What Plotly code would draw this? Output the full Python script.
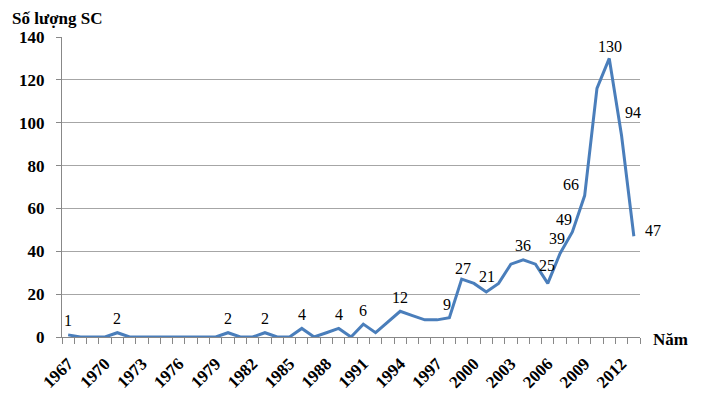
import plotly.graph_objects as go
import numpy as np

years = list(range(1967, 2014))
counts = [1, 0, 0, 0, 2, 0, 0, 0, 0, 0, 0, 0, 0, 2, 0, 0, 2, 0, 0, 4,
          0, 2, 4, 0, 6, 2, 7, 12, 10, 8, 8, 9, 27, 25, 21, 25, 34, 36,
          34, 25, 39, 49, 66, 116, 130, 94, 47]
labeled_years = [1967, 1971, 1980, 1983, 1986, 1989, 1991, 1994, 1998, 1999,
                 2001, 2004, 2006, 2007, 2008, 2009, 2011, 2012, 2013]
tick_years = list(range(1967, 2013, 3))
y_ticks = [0, 20, 40, 60, 80, 100, 120, 140]

# label offsets in px (style only)
offsets = {1998: (-2, 13), 1999: (1, 11), 2001: (1, 16), 2006: (-1, 18),
           2007: (-3, 15), 2008: (-8, 13), 2009: (-14, 11), 2011: (1, 12),
           2012: (11, 23), 2013: (19, 6)}

FONT = "Liberation Serif, Times New Roman, serif"
W, H = 697, 387
L, T, PW, PH = 54, 29, 578, 300

fig = go.Figure()
fig.add_trace(go.Scatter(x=years, y=counts, mode="lines",
                         line=dict(color="#4A7EBB", width=3), hoverinfo="skip"))

annotations = []
for yr in labeled_years:
    v = counts[years.index(yr)]
    dx, dy = offsets.get(yr, (0, 14))
    annotations.append(dict(x=yr, y=v, xref="x", yref="y", text=str(v), showarrow=False,
                            xshift=dx, yshift=dy, xanchor="center", yanchor="middle",
                            font=dict(family=FONT, size=16, color="#000")))
annotations.append(dict(x=-52/PW, y=1 + 18/PH, xref="paper", yref="paper",
                        text="<b>Số lượng SC</b>", showarrow=False, xanchor="left",
                        yanchor="middle", font=dict(family=FONT, size=17, color="#000")))
annotations.append(dict(x=(651-62)/PW, y=-2/PH, xref="paper", yref="paper",
                        text="<b>Năm</b>", showarrow=False, xanchor="left",
                        yanchor="middle", font=dict(family=FONT, size=17, color="#000")))

minor_vals = list(np.arange(years[0] - 0.5, years[-1] + 1, 1.0))

fig.update_layout(
    width=W, height=H,
    margin=dict(l=L, r=W - L - PW, t=T, b=H - T - PH, autoexpand=False),
    paper_bgcolor="white", plot_bgcolor="white",
    showlegend=False,
    annotations=annotations,
    xaxis=dict(range=[years[0] - 0.5, years[-1] + 0.5], tickmode="array",
               tickvals=tick_years, ticktext=[f"<b>{t}</b>" for t in tick_years],
               tickangle=-45, ticks="", showgrid=False, zeroline=False,
               showline=True, linecolor="#888", linewidth=1,
               ticklabelstandoff=9,
               tickfont=dict(family=FONT, size=17, color="#000"),
               minor=dict(tickmode="array", tickvals=minor_vals, ticks="outside",
                          ticklen=6, tickcolor="#888", showgrid=False)),
    yaxis=dict(range=[0, 140], tickmode="array", tickvals=y_ticks,
               ticktext=[f"<b>{t}</b>" for t in y_ticks],
               ticks="outside", ticklen=5, tickcolor="#888",
               showgrid=True, gridcolor="#a6a6a6", gridwidth=1,
               zeroline=False, showline=True, linecolor="#888", linewidth=1,
               ticklabelstandoff=8,
               tickfont=dict(family=FONT, size=17, color="#000")),
)
fig.write_html("out.html")
